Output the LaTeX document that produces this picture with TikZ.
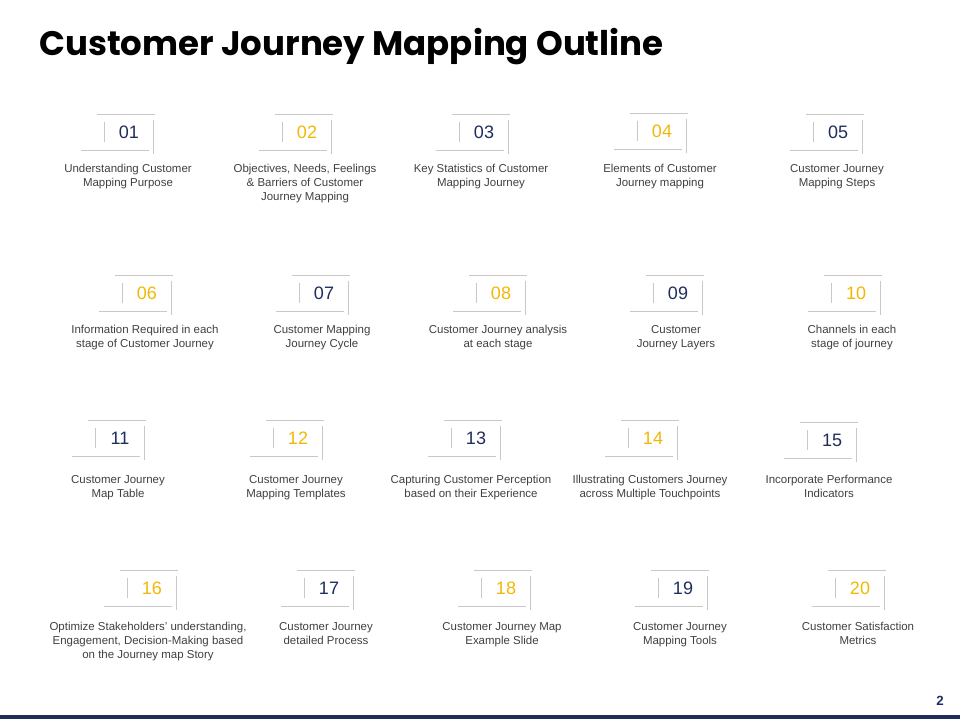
\documentclass[tikz,border=0pt]{standalone}
\usepackage{fontspec}
\setmainfont{Liberation Sans}
\newfontfamily\titlefont{Poppins}
\definecolor{navy}{HTML}{1F2D5C}
\definecolor{gold}{HTML}{F2B705}
\definecolor{rule}{HTML}{C8C8C8}
\begin{document}
\begin{tikzpicture}
[x=0.75pt,y=-0.75pt,
  numDecorate/.style={font=\fontsize{13.5}{15}\selectfont},
  textDecorate/.style={font=\fontsize{8.6}{10.5}\selectfont,align=center,text=black!75,anchor=north,inner sep=0pt},
  lineDecorate/.style={draw=rule,line width=0.6pt}]
\useasboundingbox (0,0) rectangle (960,720);
%% title and footer
\node[anchor=west,font=\titlefont\bfseries\fontsize{25.5}{30}\selectfont,inner sep=0pt] (title) at (39,47) {Customer Journey Mapping Outline};
\draw[navy,line width=2.5pt] (0,717) -- (960,717);
\node[font=\bfseries\fontsize{10}{12}\selectfont,text=navy] (page) at (940,701) {2};
%% items
\foreach \nodename/\x/\y/\tx/\ty/\col/\txt in {
  01/129/132/128/164/navy/{Understanding Customer\\Mapping Purpose},
  02/307/132/305/164/gold/{Objectives, Needs, Feelings\\\& Barriers of Customer\\Journey Mapping},
  03/484/132/481/164/navy/{Key Statistics of Customer\\Mapping Journey},
  04/662/131/660/164/gold/{Elements of Customer\\Journey mapping},
  05/838/132/837/164/navy/{Customer Journey\\Mapping Steps},
  06/147/293/145/325/gold/{Information Required in each\\stage of Customer Journey},
  07/324/293/322/325/navy/{Customer Mapping\\Journey Cycle},
  08/501/293/498/325/gold/{Customer Journey analysis\\at each stage},
  09/678/293/676/325/navy/{Customer\\Journey Layers},
  10/856/293/852/325/gold/{Channels in each\\stage of journey},
  11/120/438/118/475/navy/{Customer Journey\\Map Table},
  12/298/438/296/475/gold/{Customer Journey\\Mapping Templates},
  13/476/438/471/475/navy/{Capturing Customer Perception\\based on their Experience},
  14/653/438/650/475/gold/{Illustrating Customers Journey\\across Multiple Touchpoints},
  15/832/440/829/475/navy/{Incorporate Performance\\Indicators},
  16/152/588/148/622/gold/{Optimize Stakeholders’ understanding,\\Engagement, Decision-Making based\\on the Journey map Story},
  17/329/588/326/622/navy/{Customer Journey\\detailed Process},
  18/506/588/502/622/gold/{Customer Journey Map\\Example Slide},
  19/683/588/680/622/navy/{Customer Journey\\Mapping Tools},
  20/860/588/858/622/gold/{Customer Satisfaction\\Metrics}}
{
  \node[numDecorate,text=\col] (n\nodename) at (\x,\y) {\nodename};
  \node[textDecorate] (t\nodename) at (\tx,\ty) {\txt};
  \coordinate (a\nodename) at (\x-32,\y-18);
  \coordinate (b\nodename) at (\x+26,\y-18);
  \coordinate (c\nodename) at (\x-48,\y+18);
  \coordinate (d\nodename) at (\x+20,\y+18);
  \coordinate (e\nodename) at (\x-25,\y-10);
  \coordinate (f\nodename) at (\x-25,\y+10);
  \coordinate (g\nodename) at (\x+24,\y-12);
  \coordinate (h\nodename) at (\x+24,\y+22);
  \draw[lineDecorate] (a\nodename) -- (b\nodename);
  \draw[lineDecorate] (c\nodename) -- (d\nodename);
  \draw[lineDecorate] (e\nodename) -- (f\nodename);
  \draw[lineDecorate] (g\nodename) -- (h\nodename);
}
\end{tikzpicture}
\end{document}
